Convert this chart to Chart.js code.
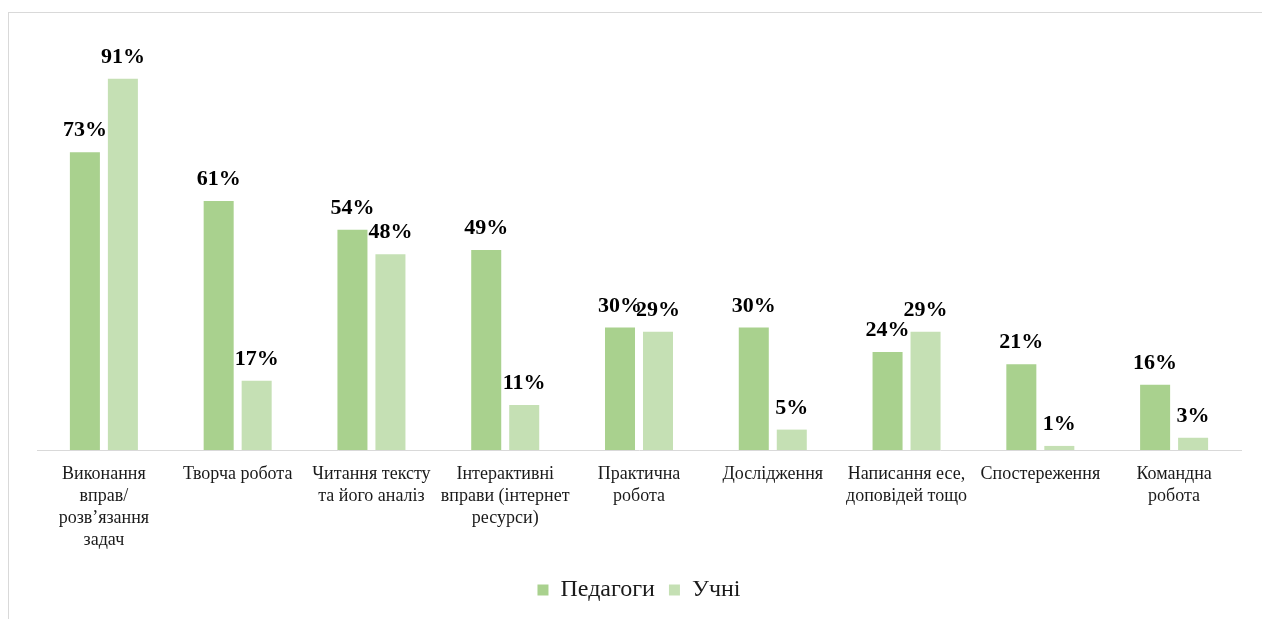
<!DOCTYPE html>
<html>
<head>
<meta charset="utf-8">
<script src="https://cdn.jsdelivr.net/npm/chart.js@4"></script>
<style>
  html, body { margin: 0; padding: 0; background: #fff; overflow: hidden; }
  #frame { position: absolute; left: 8px; top: 12px; width: 1400px; height: 800px; border: 1px solid #d9d9d9; }
  #wrap { position: absolute; left: 0; top: 0; width: 1262px; height: 619px; }
</style>
</head>
<body>
<div id="frame"></div>
<div id="wrap"><canvas id="chart"></canvas></div>
<script>
const categories = [
    ['Виконання', 'вправ/', 'розв’язання', 'задач'],
    'Творча робота',
    ['Читання тексту', 'та його аналіз'],
    ['Інтерактивні', 'вправи (інтернет', 'ресурси)'],
    ['Практична', 'робота'],
    'Дослідження',
    ['Написання есе,', 'доповідей тощо'],
    'Спостереження',
    ['Командна', 'робота']
];
const teachers = [73, 61, 54, 49, 30, 30, 24, 21, 16];
const pupils = [91, 17, 48, 11, 29, 5, 29, 1, 3];

const serif = '"Liberation Serif", "Times New Roman", serif';

// draws the percent labels above each bar
const valueLabels = {
    id: 'valueLabels',
    afterDatasetsDraw(chart) {
        const ctx = chart.ctx;
        ctx.save();
        ctx.font = 'bold 22px ' + serif;
        ctx.fillStyle = '#000';
        ctx.textAlign = 'center';
        ctx.textBaseline = 'alphabetic';
        chart.data.datasets.forEach((ds, i) => {
            chart.getDatasetMeta(i).data.forEach((bar, j) => {
                ctx.fillText(ds.data[j] + '%', bar.x, bar.y - 16);
            });
        });
        ctx.restore();
    }
};

new Chart(document.getElementById('chart'), {
    type: 'bar',
    data: {
        labels: categories,
        datasets: [{
            label: 'Педагоги',
            data: teachers,
            backgroundColor: '#a9d18e'
        }, {
            label: 'Учні',
            data: pupils,
            backgroundColor: '#c5e0b4'
        }]
    },
    options: {
        responsive: true,
        maintainAspectRatio: false,
        animation: false,
        layout: { padding: { left: 37, right: 21, top: 42, bottom: 7 } },
        datasets: {
            bar: { categoryPercentage: 0.568, barPercentage: 0.79 }
        },
        scales: {
            x: {
                grid: { display: false, drawTicks: false },
                border: { color: '#d9d9d9', width: 1 },
                ticks: {
                    color: '#1a1a1a',
                    font: { family: serif, size: 18, lineHeight: 1.22 },
                    maxRotation: 0,
                    autoSkip: false,
                    padding: 13
                },
                afterFit(scale) { scale.height = 114; }
            },
            y: {
                display: false,
                min: 0,
                max: 100
            }
        },
        plugins: {
            legend: {
                position: 'bottom',
                labels: {
                    color: '#1a1a1a',
                    font: { family: serif, size: 24 },
                    boxWidth: 11,
                    boxHeight: 11,
                    padding: 14
                }
            },
            tooltip: { enabled: false }
        }
    },
    plugins: [valueLabels]
});
</script>
</body>
</html>
